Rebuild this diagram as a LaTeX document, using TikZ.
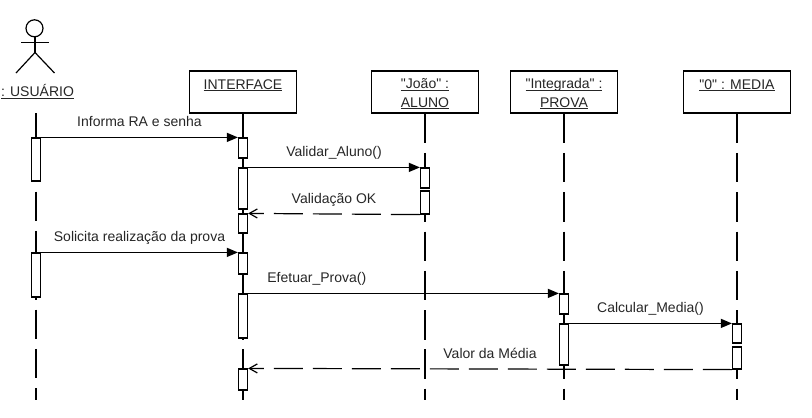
\documentclass[tikz,border=0pt]{standalone}
\usepackage{fontspec}
\setmainfont{Liberation Sans}[Ligatures=TeXOff]
\usetikzlibrary{arrows.meta}
\newcommand\uln[1]{\setbox0=\hbox{#1}\rlap{\rule[-2.2pt]{\wd0}{0.9pt}}\box0}
\newcommand\actbox[4]{\node[act,minimum height={(#4-#3)*1pt}] (#1) at (#2,{(#3+#4)/2}) {};}
\begin{document}
\begin{tikzpicture}[x=1pt,y=-1pt,line width=1.2pt,
  font=\fontsize{14}{17}\selectfont,
  objbox/.style={draw,fill=white,minimum width=107pt,minimum height=42pt,inner sep=0pt},
  act/.style={draw,fill=white,minimum width=9pt,inner sep=0pt},
  lifeline/.style={dash pattern=on 29.5pt off 9.8pt},
  msg/.style={-{Triangle[length=11pt,width=9pt]}},
  ret/.style={-{Straight Barb[length=8pt,width=9pt]},dash pattern=on 29pt off 10pt},
  lbl/.style={anchor=base,yshift=10.5pt,inner sep=0pt,text=black!85},
  boxtxt/.style={anchor=base,inner sep=0pt,text=black!85}]
\useasboundingbox (0,0) rectangle (812,418);
% actor
\draw (34.5,28.3) circle[radius=8.5pt];
\draw (35,36.8) -- (35,52.5);
\draw (21,42.3) -- (48.5,42.3);
\draw (16,73) -- (35,52.5) -- (54.5,73);
\node[boxtxt] (usrlbl) at (37.5,96.7) {\uln{: USUÁRIO}};
% objects
\node[objbox] (intf) at (243,92) {};
\node[boxtxt] (intflbl) at (243,89) {\uln{INTERFACE}};
\node[objbox] (alu) at (425,92) {};
\node[boxtxt] (alulbl1) at (425,88.5) {\uln{"João" :}};
\node[boxtxt] (alulbl2) at (425,107) {\uln{ALUNO}};
\node[objbox] (prv) at (564,92) {};
\node[boxtxt] (prvlbl1) at (564,88.5) {\uln{"Integrada" :}};
\node[boxtxt] (prvlbl2) at (564,107) {\uln{PROVA}};
\node[objbox] (med) at (737,92) {};
\node[boxtxt] (medlbl) at (737,89) {\uln{"0" : MEDIA}};
% lifelines
\coordinate (usr) at (36,113);
\coordinate (bot) at (0,400);
\draw[lifeline] (usr) -- (usr |- bot);
\draw[lifeline] (intf.south) -- (intf.south |- bot);
\draw[lifeline] (alu.south) -- (alu.south |- bot);
\draw[lifeline] (prv.south) -- (prv.south |- bot);
\draw[lifeline] (med.south) -- (med.south |- bot);
% activations
\actbox{u1}{36}{138}{181}
\actbox{u2}{36}{253}{297}
\actbox{i1}{243}{138}{158}
\actbox{i2}{243}{168}{209}
\actbox{i3}{243}{214}{233}
\actbox{i4}{243}{253}{274}
\actbox{i5}{243}{294}{338}
\actbox{i6}{243}{369}{390}
\actbox{a1}{425}{168}{188}
\actbox{a2}{425}{191}{214}
\actbox{p1}{564}{294}{314}
\actbox{p2}{564}{324}{365}
\actbox{m1}{737}{324}{343}
\actbox{m2}{737}{347}{369}
% messages
\draw[msg] (u1.north east) -- node[lbl]{Informa RA e senha} (i1.north west);
\draw[msg] (i2.north east) -- node[lbl]{Validar\_Aluno()} (a1.north west);
\draw[ret] (a2.south west) -- node[lbl]{Validação OK} (i3.north east);
\draw[msg] (u2.north east) -- node[lbl]{Solicita realização da prova} (i4.north west);
\draw[msg] (i5.north east) -- node[lbl,pos=0.221]{Efetuar\_Prova()} (p1.north west);
\draw[msg] (p2.north east) -- node[lbl]{Calcular\_Media()} (m1.north west);
\draw[ret] (m2.south west) -- node[lbl]{Valor da Média} (i6.north east);
\end{tikzpicture}
\end{document}
